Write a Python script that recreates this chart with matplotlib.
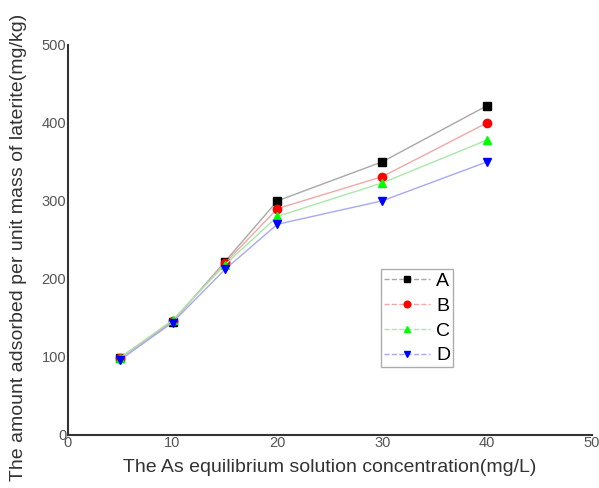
import numpy as np
from matplotlib import pyplot as plt

# 数据
conc = [5, 10, 15, 20, 30, 40]
A = [99, 145, 222, 300, 350, 422]
B = [98, 146, 220, 290, 331, 400]
C = [99, 147, 218, 280, 323, 378]
D = [96, 144, 212, 270, 300, 350]
names = ['A', 'B', 'C', 'D']
colors = ['black', 'red', 'lime', 'blue']
line_colors = ['#a8a8a8', '#f0a8a8', '#a8e8a8', '#a8a8f0']
markers = ['s', 'o', '^', 'v']

plt.rcParams['font.family'] = ['Liberation Sans', 'DejaVu Sans']
fig = plt.figure(figsize=(5.99, 4.88), dpi=100)
ax = fig.add_axes([0.113, 0.109, 0.875, 0.799])

for ys, n, c, lc, m in zip([A, B, C, D], names, colors, line_colors, markers):
    ax.plot(conc, ys, color=lc, lw=1.0, marker=m, markersize=6,
            markerfacecolor=c, markeredgecolor=c, label=n)

ax.set_xlim(0, 50)
ax.set_ylim(0, 500)
ax.set_xticks([0, 10, 20, 30, 40, 50])
ax.set_yticks([0, 100, 200, 300, 400, 500])
ax.spines['top'].set_visible(False)
ax.spines['right'].set_visible(False)
for s in ['left', 'bottom']:
    ax.spines[s].set_color('#333333')
    ax.spines[s].set_linewidth(1.5)
ax.tick_params(length=0, labelsize=10.5, labelcolor='#555555', pad=1)

ax.set_xlabel('The As equilibrium solution concentration(mg/L)', fontsize=14,
              color='#333333', labelpad=6)
ax.set_ylabel('The amount adsorbed per unit mass of laterite(mg/kg)', fontsize=14,
              color='#333333')
ax.yaxis.set_label_coords(-0.078, 0.48)

leg = ax.legend(loc='upper left', bbox_to_anchor=(0.597, 0.424), fontsize=14,
                frameon=True, fancybox=False, handlelength=2.4,
                borderpad=0.15, labelspacing=0.37, handletextpad=0.3,
                markerscale=0.8, borderaxespad=0)
leg.get_frame().set_edgecolor('#999999')
leg.get_frame().set_linewidth(1.0)
for h in leg.get_lines():
    h.set_linestyle('--')

fig.savefig('out.png', dpi=100)
